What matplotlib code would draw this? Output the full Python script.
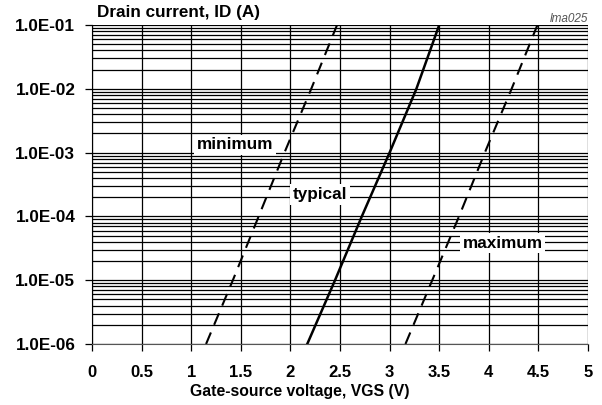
import matplotlib
matplotlib.use("Agg")
import matplotlib.pyplot as plt
from matplotlib.ticker import FixedLocator, LogLocator, NullFormatter

plt.rcParams['font.family'] = ['Liberation Sans', 'DejaVu Sans']

# drain current decades and gate voltage read at each decade
current = [1e-6, 1e-5, 1e-4, 1e-3, 1e-2, 1e-1]
vgs_min = [1.15, 1.42, 1.68, 1.94, 2.21, 2.47]
vgs_typ = [2.17, 2.45, 2.72, 3.00, 3.27, 3.50]
vgs_max = [3.16, 3.43, 3.70, 3.96, 4.23, 4.49]

x_ticks = [0, 0.5, 1, 1.5, 2, 2.5, 3, 3.5, 4, 4.5, 5]
x_labels = ['0', '0.5', '1', '1.5', '2', '2.5', '3', '3.5', '4', '4.5', '5']
y_labels = ['1.0E-06', '1.0E-05', '1.0E-04', '1.0E-03', '1.0E-02', '1.0E-01']

fig = plt.figure(figsize=(6.02, 4.05), dpi=100)
ax = fig.add_axes([0.1528, 0.1506, 0.8239, 0.7874])

ax.plot(vgs_min, current, color='black', lw=1.5, dashes=(6, 4))
ax.plot(vgs_typ, current, color='black', lw=1.8)
ax.plot(vgs_max, current, color='black', lw=1.5, dashes=(6, 4))

ax.set_yscale('log')
ax.set_xlim(0, 5)
ax.set_ylim(1e-6, 1e-1)

ax.xaxis.set_major_locator(FixedLocator(x_ticks))
ax.set_xticklabels(x_labels, fontsize=12, fontweight='bold')
ax.yaxis.set_major_locator(FixedLocator(current))
ax.set_yticklabels(y_labels, fontsize=12.3, fontweight='bold')
ax.yaxis.set_minor_locator(LogLocator(base=10, subs=range(2, 10)))
ax.yaxis.set_minor_formatter(NullFormatter())

ax.grid(which='major', color='black', lw=0.9)
ax.grid(which='minor', axis='y', color='black', lw=0.9)
ax.set_axisbelow(True)
ax.tick_params(which='major', direction='out', length=5, width=0.9, color='black')
ax.tick_params(axis='y', pad=7)
ax.tick_params(axis='x', pad=10)
ax.tick_params(which='minor', length=0)

for side in ['top', 'right']:
    ax.spines[side].set_visible(False)
ax.spines['left'].set_color('black')
ax.spines['bottom'].set_color('#555555')

box = dict(facecolor='white', edgecolor='none', pad=2)
ax.text(1.44, 1.33e-3, 'minimum', fontsize=12.3, fontweight='bold', ha='center', va='center', bbox=box)
ax.text(2.30, 2.2e-4, 'typical', fontsize=12.3, fontweight='bold', ha='center', va='center', bbox=box)
ax.text(4.14, 3.8e-5, 'maximum', fontsize=12.3, fontweight='bold', ha='center', va='center', bbox=box)

ax.set_xlabel('Gate-source voltage, VGS (V)', fontsize=11.3, fontweight='bold')
ax.xaxis.set_label_coords(0.419, -0.125)
fig.text(97 / 602, 1 - 17 / 405, 'Drain current, ID (A)', fontsize=12.3, fontweight='bold', ha='left', va='baseline')
fig.text(588 / 602, 1 - 22 / 405, 'lma025', fontsize=8.5, style='italic', color='#555555', ha='right', va='baseline')

fig.savefig('out.png', dpi=100)
